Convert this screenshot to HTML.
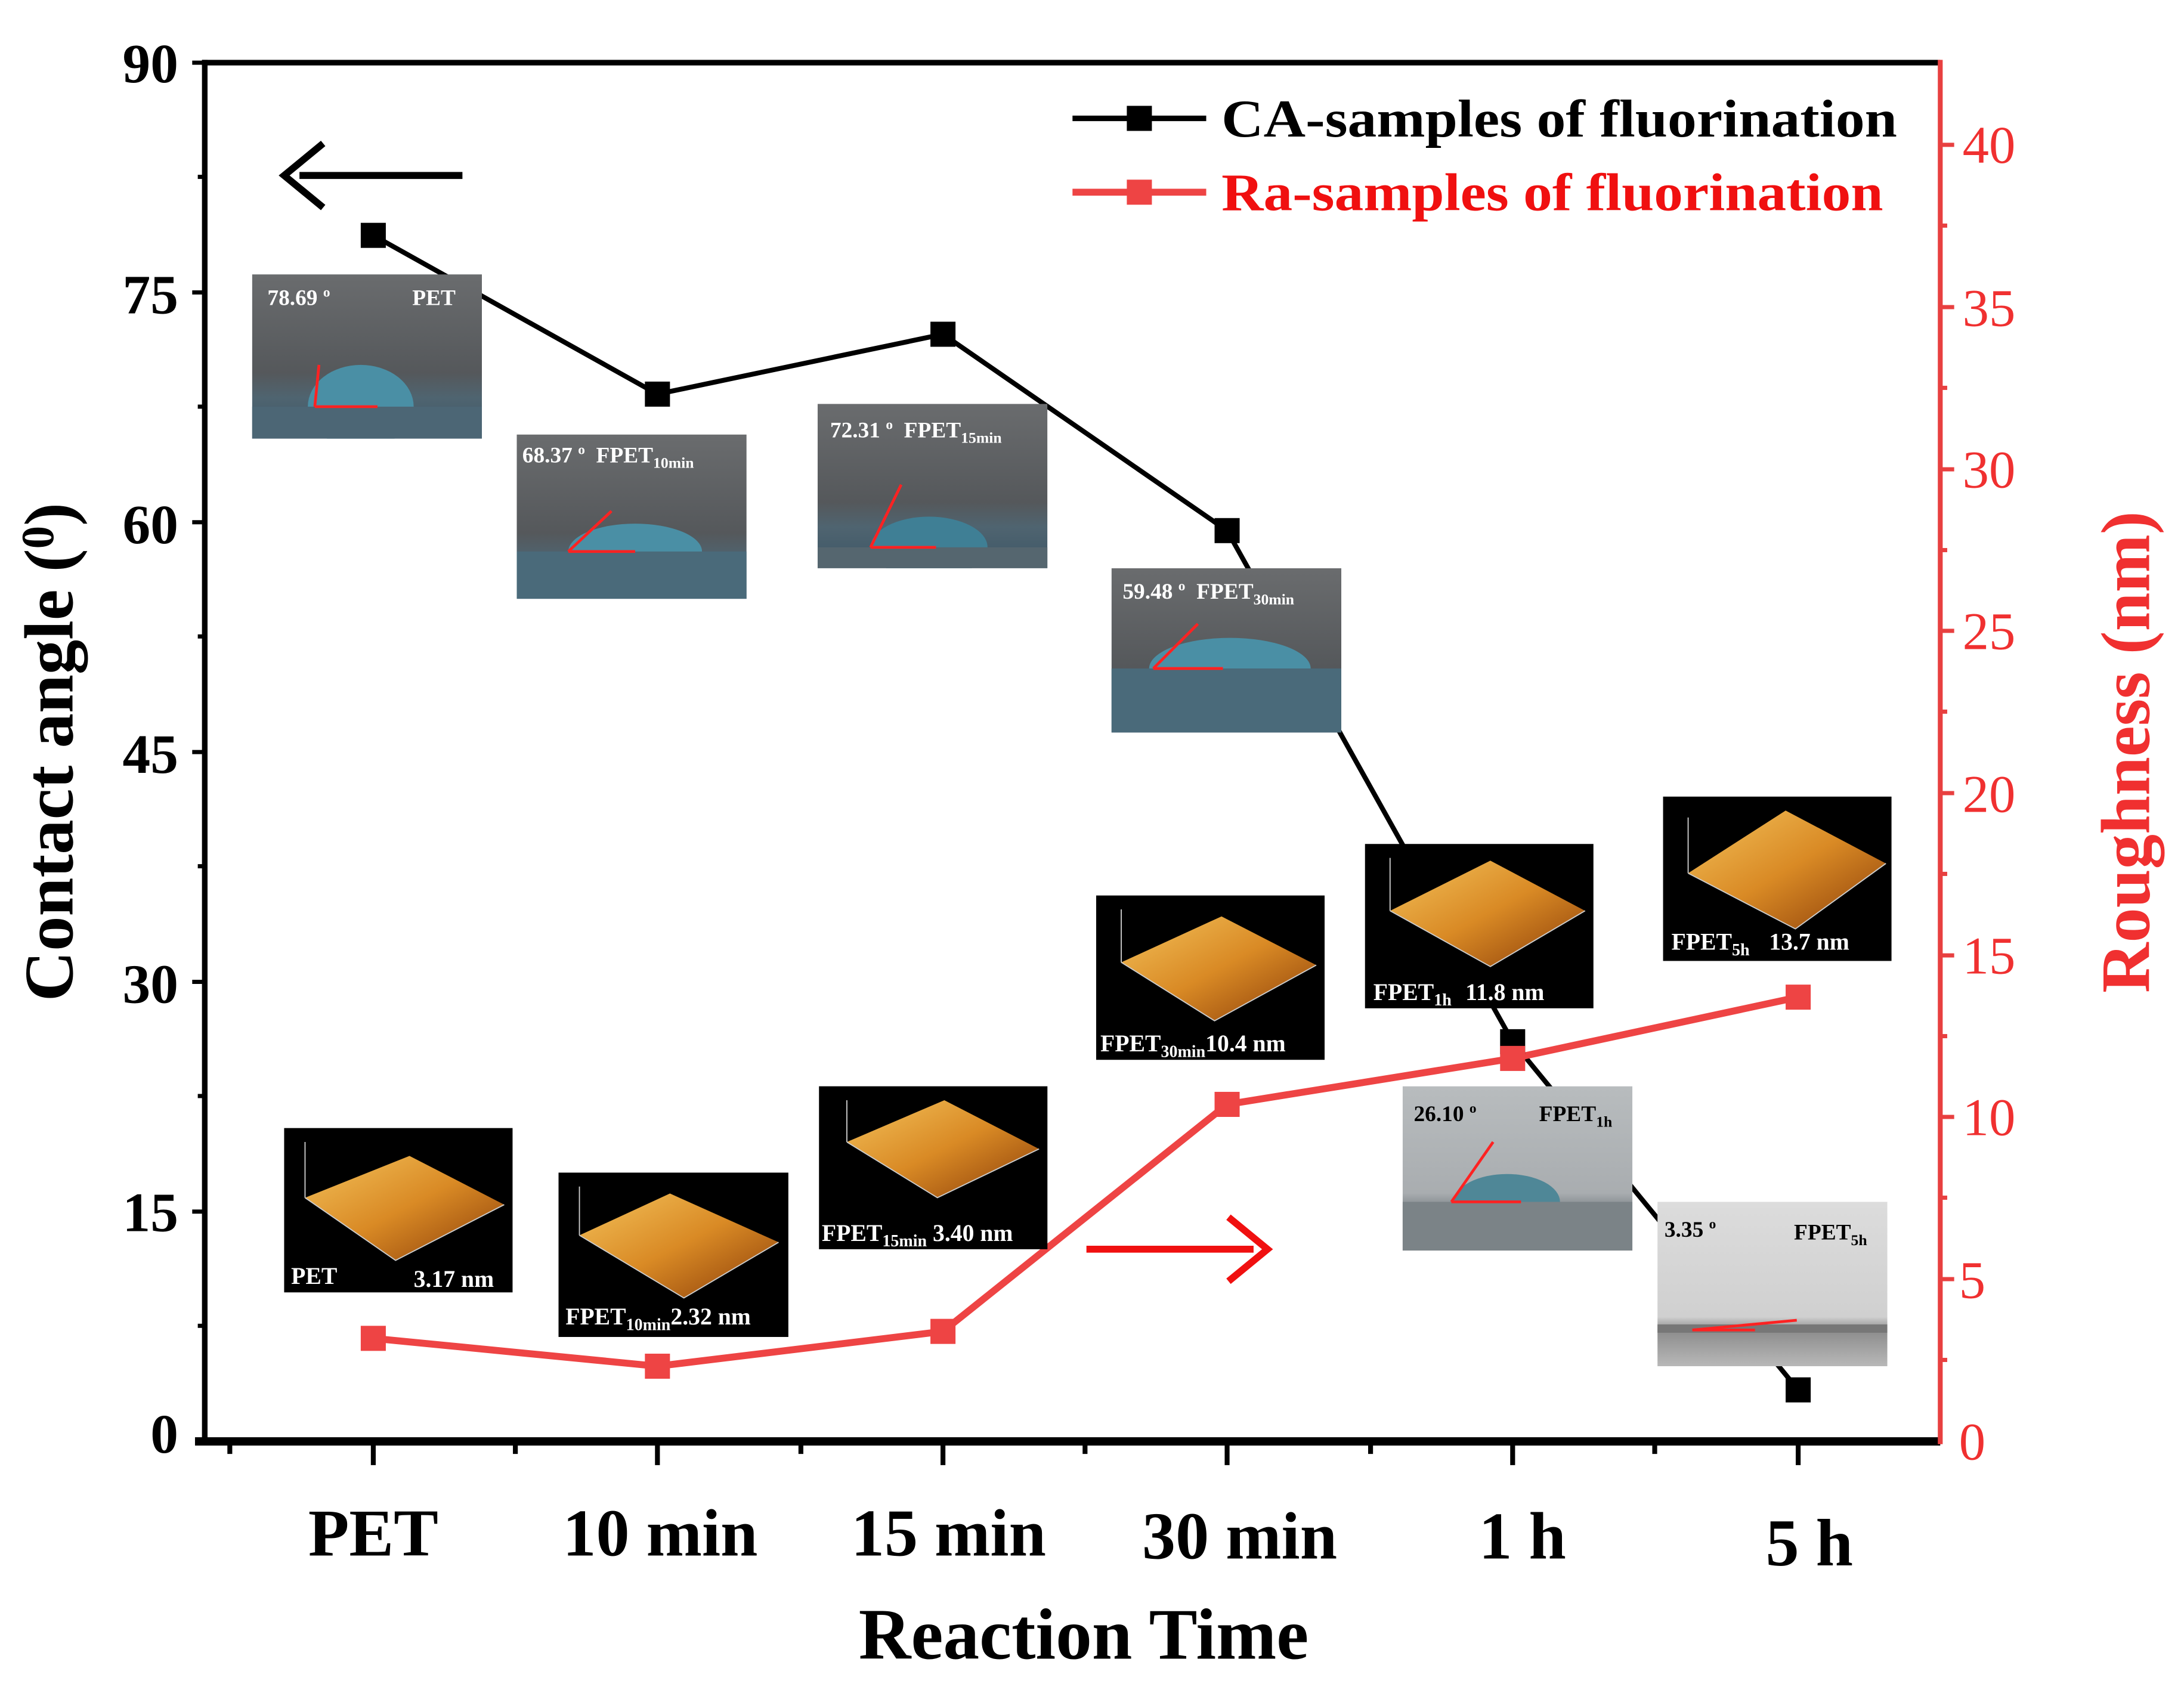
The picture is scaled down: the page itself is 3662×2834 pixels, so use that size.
<!DOCTYPE html>
<html><head><meta charset="utf-8"><style>
html,body{margin:0;padding:0;background:#fff;}
svg{display:block;}
text{font-family:"Liberation Serif",serif;font-weight:bold;}
</style></head><body>
<svg width="3662" height="2834" viewBox="0 0 1568 1213.5" preserveAspectRatio="none" xmlns="http://www.w3.org/2000/svg">
<defs>
<linearGradient id="ph" x1="0" y1="0" x2="0" y2="1"><stop offset="0" stop-color="#6a6c6e"/><stop offset="0.6" stop-color="#55585b"/><stop offset="0.75" stop-color="#4f6470"/><stop offset="1" stop-color="#3d5666"/></linearGradient>
<linearGradient id="phl" x1="0" y1="0" x2="0" y2="1"><stop offset="0" stop-color="#b8bcbe"/><stop offset="0.65" stop-color="#a9adb0"/><stop offset="0.75" stop-color="#7d8488"/><stop offset="1" stop-color="#8b9093"/></linearGradient>
<linearGradient id="phw" x1="0" y1="0" x2="0" y2="1"><stop offset="0" stop-color="#dcdcdc"/><stop offset="0.7" stop-color="#d0d0d0"/><stop offset="0.78" stop-color="#8c8c8c"/><stop offset="1" stop-color="#b8b8b8"/></linearGradient>
<linearGradient id="afm" x1="0" y1="0" x2="1" y2="1"><stop offset="0" stop-color="#f3c15a"/><stop offset="0.5" stop-color="#d98a25"/><stop offset="1" stop-color="#8a3c08"/></linearGradient>
<clipPath id="cp" clipPathUnits="userSpaceOnUse"><rect x="0" y="0" width="165" height="118"/></clipPath>
</defs>

<!-- axes -->
<line x1="145" y1="45" x2="1393" y2="45" stroke="#000" stroke-width="4"/>
<line x1="147" y1="43" x2="147" y2="1037" stroke="#000" stroke-width="4"/>
<line x1="140" y1="1035" x2="1393" y2="1035" stroke="#000" stroke-width="6"/>
<line x1="1393" y1="43" x2="1393" y2="1037" stroke="#e84040" stroke-width="3.5"/>

<g stroke="#000" stroke-width="3">
<line x1="138" y1="45" x2="147" y2="45"/><line x1="138" y1="210" x2="147" y2="210"/><line x1="138" y1="375" x2="147" y2="375"/><line x1="138" y1="540" x2="147" y2="540"/><line x1="138" y1="705" x2="147" y2="705"/><line x1="138" y1="870" x2="147" y2="870"/>
<line x1="142" y1="127" x2="147" y2="127"/><line x1="142" y1="292" x2="147" y2="292"/><line x1="142" y1="457" x2="147" y2="457"/><line x1="142" y1="622" x2="147" y2="622"/><line x1="142" y1="787" x2="147" y2="787"/><line x1="142" y1="952" x2="147" y2="952"/>
</g>
<g stroke="#000" stroke-width="3.5">
<line x1="165" y1="1035" x2="165" y2="1044"/>
<line x1="268" y1="1035" x2="268" y2="1052"/><line x1="472" y1="1035" x2="472" y2="1052"/><line x1="677" y1="1035" x2="677" y2="1052"/><line x1="881" y1="1035" x2="881" y2="1052"/><line x1="1086" y1="1035" x2="1086" y2="1052"/><line x1="1291" y1="1035" x2="1291" y2="1052"/>
<line x1="370" y1="1035" x2="370" y2="1044"/><line x1="575" y1="1035" x2="575" y2="1044"/><line x1="779" y1="1035" x2="779" y2="1044"/><line x1="984" y1="1035" x2="984" y2="1044"/><line x1="1188" y1="1035" x2="1188" y2="1044"/>
</g>
<g stroke="#e84040" stroke-width="3">
<line x1="1393" y1="104" x2="1403" y2="104"/><line x1="1393" y1="220.5" x2="1403" y2="220.5"/><line x1="1393" y1="337" x2="1403" y2="337"/><line x1="1393" y1="453" x2="1403" y2="453"/><line x1="1393" y1="569.5" x2="1403" y2="569.5"/><line x1="1393" y1="686" x2="1403" y2="686"/><line x1="1393" y1="802" x2="1403" y2="802"/><line x1="1393" y1="918.5" x2="1403" y2="918.5"/>
<line x1="1393" y1="162" x2="1398" y2="162"/><line x1="1393" y1="278.5" x2="1398" y2="278.5"/><line x1="1393" y1="395" x2="1398" y2="395"/><line x1="1393" y1="511" x2="1398" y2="511"/><line x1="1393" y1="627.5" x2="1398" y2="627.5"/><line x1="1393" y1="744" x2="1398" y2="744"/><line x1="1393" y1="860" x2="1398" y2="860"/><line x1="1393" y1="976.5" x2="1398" y2="976.5"/>
</g>

<g font-size="40" text-anchor="end" fill="#000">
<text x="128" y="59">90</text><text x="128" y="225">75</text><text x="128" y="390">60</text><text x="128" y="555">45</text><text x="128" y="720">30</text><text x="128" y="884">15</text><text x="128" y="1043">0</text>
</g>
<g font-size="38" text-anchor="middle" fill="#f03030">
<text x="1428" y="117" style="font-weight:normal">40</text><text x="1428" y="234" style="font-weight:normal">35</text><text x="1428" y="350" style="font-weight:normal">30</text><text x="1428" y="466" style="font-weight:normal">25</text><text x="1428" y="583" style="font-weight:normal">20</text><text x="1428" y="699" style="font-weight:normal">15</text><text x="1428" y="815" style="font-weight:normal">10</text><text x="1416" y="932" style="font-weight:normal">5</text><text x="1416" y="1048" style="font-weight:normal">0</text>
</g>
<g font-size="48" text-anchor="middle">
<text x="268" y="1117">PET</text><text x="474" y="1117">10 min</text><text x="681" y="1117">15 min</text><text x="890" y="1119">30 min</text><text x="1093" y="1119">1 h</text><text x="1299" y="1124">5 h</text>
</g>
<text x="778" y="1191" font-size="52" text-anchor="middle">Reaction Time</text>
<text transform="translate(52,540) rotate(-90)" font-size="50" text-anchor="middle">Contact angle (<tspan font-size="33" dy="-14">0</tspan><tspan dy="14">)</tspan></text>
<text transform="translate(1543,540) rotate(-90)" font-size="50" text-anchor="middle" fill="#f03030">Roughness (nm)</text>

<line x1="770" y1="85" x2="866" y2="85" stroke="#000" stroke-width="4"/><rect x="809" y="76" width="18" height="18" fill="#000"/>
<text x="877" y="98" font-size="38" textLength="485" lengthAdjust="spacingAndGlyphs">CA-samples of fluorination</text>
<line x1="770" y1="138" x2="866" y2="138" stroke="#ee4444" stroke-width="5"/><rect x="809" y="129" width="18" height="18" fill="#ee4444"/>
<text x="877" y="151" font-size="38" fill="#f01010" textLength="475" lengthAdjust="spacingAndGlyphs">Ra-samples of fluorination</text>

<line x1="215" y1="126" x2="332" y2="126" stroke="#000" stroke-width="5"/>
<polyline points="232,103 204,126 232,149" fill="none" stroke="#000" stroke-width="5"/>
<line x1="780" y1="897" x2="900" y2="897" stroke="#f01010" stroke-width="5"/>
<polyline points="882,874 910,897 882,920" fill="none" stroke="#f01010" stroke-width="5"/>

<polyline points="268,169 472,283 677,240 881,381 1086,748 1291,998" fill="none" stroke="#000" stroke-width="3.5"/>
<polyline points="268,961 472,981 677,956 881,793 1086,760 1291,716" fill="none" stroke="#ee4444" stroke-width="5"/>
<g fill="#000"><rect x="259" y="160" width="18" height="18"/><rect x="463" y="274" width="18" height="18"/><rect x="668" y="231" width="18" height="18"/><rect x="872" y="372" width="18" height="18"/><rect x="1077" y="739" width="18" height="18"/><rect x="1282" y="989" width="18" height="18"/></g>
<g fill="#ee4444"><rect x="259" y="952" width="18" height="18"/><rect x="463" y="972" width="18" height="18"/><rect x="668" y="947" width="18" height="18"/><rect x="872" y="784" width="18" height="18"/><rect x="1077" y="751" width="18" height="18"/><rect x="1282" y="707" width="18" height="18"/></g>

<g font-size="16" fill="#fff">
<g transform="translate(181,197)"><g clip-path="url(#cp)"><rect width="165" height="118" fill="url(#ph)"/><ellipse cx="78" cy="95" rx="38" ry="30" fill="#4a8fa5"/><rect x="0" y="95" width="165" height="23" fill="#4c6675"/></g><path d="M45,95 L90,95 M45,95 L48,65" stroke="#f22" stroke-width="2" fill="none"/><text x="11" y="22">78.69 <tspan font-size="10" dy="-6">o</tspan></text><text x="115" y="22">PET</text></g>
<g transform="translate(371,312)"><g clip-path="url(#cp)"><rect width="165" height="118" fill="url(#ph)"/><ellipse cx="85" cy="84" rx="48" ry="20" fill="#4a8fa5"/><rect x="0" y="84" width="165" height="34" fill="#4a6a7a"/></g><path d="M37,84 L85,84 M37,84 L68,55" stroke="#f22" stroke-width="2" fill="none"/><text x="4" y="20">68.37 <tspan font-size="10" dy="-6">o</tspan><tspan dy="6" dx="8">FPET</tspan><tspan font-size="11" dy="4">10min</tspan></text></g>
<g transform="translate(587,290)"><g clip-path="url(#cp)"><rect width="165" height="118" fill="url(#ph)"/><ellipse cx="80" cy="103" rx="42" ry="22" fill="#3f7f95"/><rect x="0" y="103" width="165" height="15" fill="#55666f"/></g><path d="M38,103 L85,103 M38,103 L60,58" stroke="#f22" stroke-width="2" fill="none"/><text x="9" y="24">72.31 <tspan font-size="10" dy="-6">o</tspan><tspan dy="6" dx="8">FPET</tspan><tspan font-size="11" dy="4">15min</tspan></text></g>
<g transform="translate(798,408)"><g clip-path="url(#cp)"><rect width="165" height="118" fill="url(#ph)"/><ellipse cx="85" cy="72" rx="58" ry="22" fill="#4a8fa5"/><rect x="0" y="72" width="165" height="46" fill="#4a6a7a"/></g><path d="M30,72 L80,72 M30,72 L62,40" stroke="#f22" stroke-width="2" fill="none"/><text x="8" y="22">59.48 <tspan font-size="10" dy="-6">o</tspan><tspan dy="6" dx="8">FPET</tspan><tspan font-size="11" dy="4">30min</tspan></text></g>
<g transform="translate(1007,780)"><g clip-path="url(#cp)"><rect width="165" height="118" fill="url(#phl)"/><ellipse cx="75" cy="83" rx="38" ry="20" fill="#4f8797"/><rect x="0" y="83" width="165" height="35" fill="#7b8387"/></g><path d="M35,83 L85,83 M35,83 L65,40" stroke="#f22" stroke-width="2" fill="none"/><text x="8" y="25" fill="#000">26.10 <tspan font-size="10" dy="-6">o</tspan></text><text x="98" y="25" fill="#000">FPET<tspan font-size="11" dy="4">1h</tspan></text></g>
<g transform="translate(1190,863)"><rect width="165" height="118" fill="url(#phw)"/><rect x="0" y="88" width="165" height="6" fill="#777"/><path d="M25,92 L100,85 M25,92 L70,92" stroke="#f22" stroke-width="2" fill="none"/><text x="5" y="25" fill="#000">3.35 <tspan font-size="10" dy="-6">o</tspan></text><text x="98" y="27" fill="#000">FPET<tspan font-size="11" dy="4">5h</tspan></text></g>
</g>

<g font-size="17" fill="#fff">
<g transform="translate(204,810)"><rect width="164" height="118" fill="#000"/><polygon points="15,50 90,20 158,55 80,95" fill="url(#afm)"/><path d="M15,50 L15,10 M15,50 L80,95 L158,55" stroke="#ccc" stroke-width="0.8" fill="none"/><text x="5" y="112">PET</text><text x="93" y="114">3.17 nm</text></g>
<g transform="translate(401,842)"><rect width="165" height="118" fill="#000"/><polygon points="15,45 80,15 158,50 90,90" fill="url(#afm)"/><path d="M15,45 L15,10 M15,45 L90,90 L158,50" stroke="#ccc" stroke-width="0.8" fill="none"/><text x="5" y="109">FPET<tspan font-size="12" dy="4">10min</tspan><tspan dy="-4">2.32 nm</tspan></text></g>
<g transform="translate(588,780)"><rect width="164" height="117" fill="#000"/><polygon points="20,40 90,10 158,45 85,80" fill="url(#afm)"/><path d="M20,40 L20,10 M20,40 L85,80 L158,45" stroke="#ccc" stroke-width="0.8" fill="none"/><text x="2" y="111">FPET<tspan font-size="12" dy="4">15min</tspan><tspan dy="-4"> 3.40 nm</tspan></text></g>
<g transform="translate(787,643)"><rect width="164" height="118" fill="#000"/><polygon points="18,48 90,15 158,50 85,90" fill="url(#afm)"/><path d="M18,48 L18,10 M18,48 L85,90 L158,50" stroke="#ccc" stroke-width="0.8" fill="none"/><text x="3" y="112">FPET<tspan font-size="12" dy="4">30min</tspan><tspan dy="-4">10.4 nm</tspan></text></g>
<g transform="translate(980,606)"><rect width="164" height="118" fill="#000"/><polygon points="18,48 90,12 158,48 90,88" fill="url(#afm)"/><path d="M18,48 L18,10 M18,48 L90,88 L158,48" stroke="#ccc" stroke-width="0.8" fill="none"/><text x="6" y="112">FPET<tspan font-size="12" dy="4">1h</tspan><tspan dy="-4" dx="10">11.8 nm</tspan></text></g>
<g transform="translate(1194,572)"><rect width="164" height="118" fill="#000"/><polygon points="18,55 88,10 160,48 95,95" fill="url(#afm)"/><path d="M18,55 L18,15 M18,55 L95,95 L160,48" stroke="#ccc" stroke-width="0.8" fill="none"/><text x="6" y="110">FPET<tspan font-size="12" dy="4">5h</tspan><tspan dy="-4" dx="14">13.7 nm</tspan></text></g>
</g>
</svg>
</body></html>
